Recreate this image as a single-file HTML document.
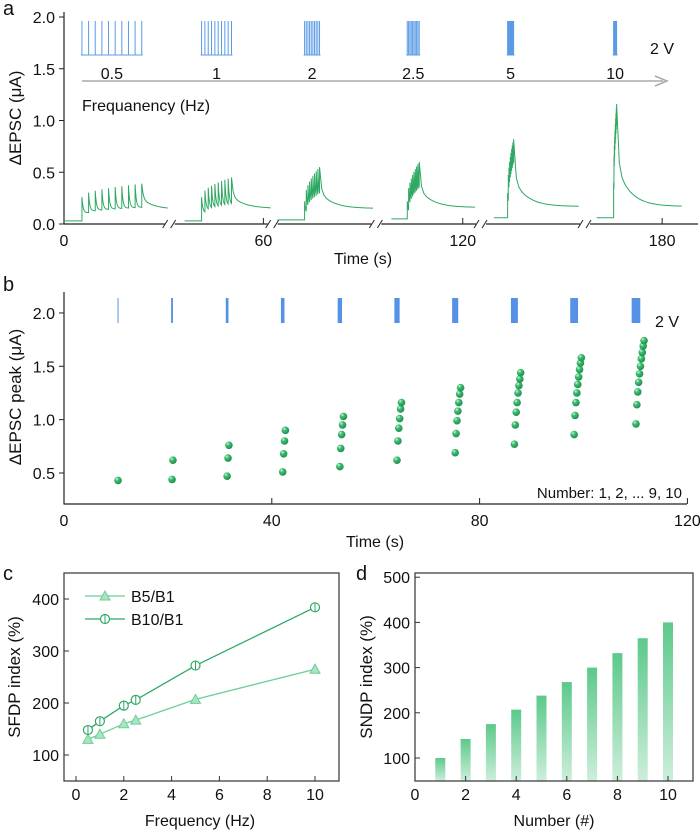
<!DOCTYPE html>
<html><head><meta charset="utf-8"><style>
html,body{margin:0;padding:0;background:#fff;}
svg{display:block;font-family:"Liberation Sans",Arial,sans-serif;}
text{fill:#111;}
</style></head><body>
<svg id="fig" width="700" height="832" viewBox="0 0 700 832">
<defs>
<radialGradient id="dotg" cx="0.35" cy="0.3" r="0.7">
<stop offset="0" stop-color="#d8f5e4"/><stop offset="0.35" stop-color="#3fbf73"/><stop offset="1" stop-color="#1f8f4e"/>
</radialGradient>
<linearGradient id="barg" x1="0" y1="0" x2="0" y2="1">
<stop offset="0" stop-color="#5cc98a"/><stop offset="1" stop-color="#cdeedb"/>
</linearGradient>
</defs>
<g id="pa"></g>
<g id="pb"></g>
<g id="pc"></g>
<g id="pd"></g>
</svg>
<script>
// ---- Panel a data ----
const aFreqs = [0.5, 1, 2, 2.5, 5, 10];
const aFreqLabels = ["0.5", "1", "2", "2.5", "5", "10"];
const aStart = [0, 36.3, 64.2, 98.5, 129.4, 160.3];
const aOnset = [5.4, 41.4, 72.4, 103.3, 133.5, 165.4];
const aEnd = [31.2, 62.2, 93, 123.7, 154.9, 185.9];
const aFirstPeak = [0.26, 0.26, 0.22, 0.22, 0.3, 0.4];
const aLastPeak = [0.39, 0.45, 0.55, 0.6, 0.82, 1.16];
const aBase = [0.03, 0.03, 0.04, 0.05, 0.06, 0.06];
const aTail = [0.14, 0.15, 0.15, 0.16, 0.17, 0.17];
const aBreaks = [31.8, 62.8, 94, 125.5, 156.8];
const aXTicks = [0, 60, 120, 180];
const aYTicks = [0, 0.5, 1.0, 1.5, 2.0];
// ---- Panel b data ----
const bPulseTimes = [10.4, 20.8, 31.4, 42.1, 53.1, 64.1, 75.3, 86.7, 98.2, 110.1];
const bPeaks = [
 [0.43],
 [0.44,0.62],
 [0.47,0.64,0.76],
 [0.51,0.68,0.80,0.90],
 [0.56,0.73,0.86,0.95,1.03],
 [0.62,0.80,0.92,1.01,1.10,1.16],
 [0.69,0.87,0.99,1.08,1.16,1.24,1.30],
 [0.77,0.95,1.07,1.16,1.25,1.32,1.38,1.44],
 [0.86,1.04,1.16,1.25,1.33,1.40,1.47,1.53,1.58],
 [0.96,1.14,1.26,1.35,1.43,1.50,1.57,1.63,1.69,1.74]
];
const bXTicks = [0, 40, 80, 120];
const bYTicks = [0.5, 1.0, 1.5, 2.0];
// ---- Panel c data ----
const cFreq = [0.5, 1, 2, 2.5, 5, 10];
const cB5 = [130, 140, 160, 167, 207, 265];
const cB10 = [148, 165, 195, 206, 272, 384];
const cXTicks = [0, 2, 4, 6, 8, 10];
const cYTicks = [100, 200, 300, 400];
// ---- Panel d data ----
const dNumber = [1,2,3,4,5,6,7,8,9,10];
const dIndex = [100, 142, 175, 207, 238, 268, 300, 332, 365, 400];
const dXTicks = [0, 2, 4, 6, 8, 10];
const dYTicks = [100, 200, 300, 400, 500];

const NS = "http://www.w3.org/2000/svg";
function mk(parent, tag, attrs, txt){
  const e = document.createElementNS(NS, tag);
  for (const k in attrs) e.setAttribute(k, attrs[k]);
  if (txt !== undefined) e.textContent = txt;
  parent.appendChild(e); return e;
}
const GREEN = "#2ea862";

// ================= Panel a =================
(function(){
  const g = document.getElementById('pa');
  const ax = t => 64 + t * 3.323;
  const ay = v => 224 - v * 103.5;
  let e = mk(g,'text',{x:3,y:15,'font-size':20});
  e.textContent='a';
  
  
  e = mk(g,'line',{x1:64,y1:12,x2:64,y2:224.5,stroke:'#222','stroke-width':1.2});
   
  e = mk(g,'line',{x1:64,y1:224,x2:698,y2:224,stroke:'#222','stroke-width':1.2});
   
  aYTicks.forEach(v=>{
    mk(g,'line',{x1:59,y1:ay(v),x2:64,y2:ay(v),stroke:'#222','stroke-width':1});
    const t = mk(g,'text',{x:55,y:ay(v)+6,'font-size':16,'text-anchor':'end'}, v.toFixed(1));
     
  });
  aXTicks.forEach(v=>{
    mk(g,'line',{x1:ax(v),y1:224,x2:ax(v),y2:218,stroke:'#222','stroke-width':1});
    const t = mk(g,'text',{x:ax(v),y:246,'font-size':16,'text-anchor':'middle'}, String(v));
     
  });
  e = mk(g,'text',{x:363,y:264,'font-size':16,'text-anchor':'middle'},'Time (s)');
   
  e = mk(g,'text',{x:0,y:0,'font-size':17,'text-anchor':'middle',transform:'translate(21,118) rotate(-90)'},'ΔEPSC (μA)');
   
  aBreaks.forEach(b=>{
    const x = ax(b);
    mk(g,'rect',{x:x-5,y:221,width:10,height:6,fill:'#fff'});
    const bk = mk(g,'path',{d:`M${x-7},228 L${x-2},220 M${x+1},228 L${x+6},220`,stroke:'#222','stroke-width':1,fill:'none'});
     
  });
  aFreqs.forEach((f,gi)=>{
    const dt = 1/f;
    const pulses=[];
    for(let i=0;i<10;i++) pulses.push(aOnset[gi]+i*dt);
    const pk = i => aFirstPeak[gi] + (aLastPeak[gi]-aFirstPeak[gi])*Math.sqrt(i/9);
    let d = `M${ax(pulses[0])-1},55 L${ax(pulses[9])+1},55`;
    pulses.forEach(p=>{ d += ` M${ax(p)},55 L${ax(p)},21`; });
    const pt = mk(g,'path',{d:d,stroke:'#5b9be6','stroke-width':1,fill:'none'});
    
    
    const lab = mk(g,'text',{x:(ax(pulses[0])+ax(pulses[9]))/2,y:79,'font-size':16,'text-anchor':'middle'},aFreqLabels[gi]);
     
    const base = aBase[gi];
    let pts = [[aStart[gi],base],[pulses[0],base]];
    for(let i=0;i<10;i++){
      const p = pk(i);
      pts.push([pulses[i],p]);
      const next = i<9 ? pulses[i+1] : aEnd[gi];
      const span = next - pulses[i];
      const floor = i<9 ? p*0.42 : aTail[gi];
      const N = 24;
      for(let k=1;k<=N;k++){
        const s = span*k/N;
        let v;
        if(i<9) v = floor + (p-floor)*Math.exp(-s/0.35);
        else v = floor + (p-floor)*(0.6*Math.exp(-s/0.45)+0.4*Math.exp(-s/4));
        pts.push([pulses[i]+s, v]);
      }
      if(i<9) pts.push([next, pts[pts.length-1][1]]);
    }
    const tr = mk(g,'path',{d:'M'+pts.map(q=>ax(q[0]).toFixed(2)+','+ay(q[1]).toFixed(2)).join(' L'),stroke:GREEN,'stroke-width':1,fill:'none'});
    
    
  });
  e = mk(g,'text',{x:650,y:54,'font-size':16},'2 V');
   
  e = mk(g,'path',{d:'M82,81 L663,81 M655,76 L667,81 L655,86',stroke:'#aaa','stroke-width':1.5,fill:'none'});
   
  e = mk(g,'text',{x:82,y:111,'font-size':16},'Frequanency (Hz)');
   
})();

// ================= Panel b =================
(function(){
  const g = document.getElementById('pb');
  const bx = t => 64 + t * 5.195;
  const by = v => 473 - (v-0.5) * 106.7;
  let e = mk(g,'text',{x:3,y:291,'font-size':20},'b');
   
  e = mk(g,'line',{x1:64,y1:292,x2:64,y2:504.5,stroke:'#222','stroke-width':1.2});
   
  e = mk(g,'line',{x1:64,y1:504,x2:687,y2:504,stroke:'#222','stroke-width':1.2});
   
  bYTicks.forEach(v=>{
    mk(g,'line',{x1:59,y1:by(v),x2:64,y2:by(v),stroke:'#222','stroke-width':1});
    const t = mk(g,'text',{x:55,y:by(v)+6,'font-size':16,'text-anchor':'end'},v.toFixed(1));
     
  });
  bXTicks.forEach(v=>{
    mk(g,'line',{x1:bx(v),y1:504,x2:bx(v),y2:498,stroke:'#222','stroke-width':1});
    const t = mk(g,'text',{x:bx(v),y:526,'font-size':16,'text-anchor':'middle'},String(v));
     
  });
  e = mk(g,'text',{x:375,y:547,'font-size':16,'text-anchor':'middle'},'Time (s)');
   
  e = mk(g,'text',{x:0,y:0,'font-size':17,'text-anchor':'middle',transform:'translate(21,397) rotate(-90)'},'ΔEPSC peak (μA)');
   
  bPulseTimes.forEach((t,i)=>{
    const w = 1 + i*0.85;
    const r = mk(g,'rect',{x:bx(t)-w/2,y:298,width:w,height:25,fill:'#5592e6'});
    
    
  });
  bPeaks.forEach((arr,gi)=>{
    arr.forEach((v,k)=>{
      const c = mk(g,'circle',{cx:bx(bPulseTimes[gi])+k*0.9,cy:by(v),r:3.8,fill:'url(#dotg)'});
      
      
    });
  });
  e = mk(g,'text',{x:682,y:498,'font-size':15,'text-anchor':'end'},'Number: 1, 2, ... 9, 10');
   
  e = mk(g,'text',{x:655,y:327,'font-size':16},'2 V');
   
})();

// ================= Panel c =================
(function(){
  const g = document.getElementById('pc');
  const cx = v => 76 + v * 23.9;
  const cy = v => 755 - (v-100) * 0.52;
  let e = mk(g,'text',{x:3,y:580,'font-size':20},'c');
   
  e = mk(g,'rect',{x:64,y:573,width:275,height:208,fill:'none',stroke:'#333','stroke-width':1.2});
   
  cYTicks.forEach(v=>{
    mk(g,'line',{x1:64,y1:cy(v),x2:69,y2:cy(v),stroke:'#333','stroke-width':1});
    const t = mk(g,'text',{x:59,y:cy(v)+6,'font-size':16,'text-anchor':'end'},String(v));
     
  });
  cXTicks.forEach(v=>{
    mk(g,'line',{x1:cx(v),y1:781,x2:cx(v),y2:776,stroke:'#333','stroke-width':1});
    const t = mk(g,'text',{x:cx(v),y:800,'font-size':16,'text-anchor':'middle'},String(v));
     
  });
  e = mk(g,'text',{x:200,y:826,'font-size':16,'text-anchor':'middle'},'Frequency (Hz)');
   
  e = mk(g,'text',{x:0,y:0,'font-size':17,'text-anchor':'middle',transform:'translate(20,677) rotate(-90)'},'SFDP index (%)');
   
  const c5='#6ccf97', c10='#2fa866';
  e = mk(g,'path',{d:'M'+cFreq.map((f,i)=>cx(f)+','+cy(cB5[i])).join(' L'),stroke:c5,'stroke-width':1.3,fill:'none'});
   
  e = mk(g,'path',{d:'M'+cFreq.map((f,i)=>cx(f)+','+cy(cB10[i])).join(' L'),stroke:c10,'stroke-width':1.3,fill:'none'});
   
  const tri=(x,y)=>`M${x},${y-5} L${x+5},${y+4} L${x-5},${y+4} Z`;
  cFreq.forEach((f,i)=>{
    const m = mk(g,'path',{d:tri(cx(f),cy(cB5[i])),fill:'#a9e4c3',stroke:c5,'stroke-width':1});
     
    const o = mk(g,'circle',{cx:cx(f),cy:cy(cB10[i]),r:4.5,fill:'#fff',stroke:c10,'stroke-width':1.2});
     
    mk(g,'line',{x1:cx(f),y1:cy(cB10[i])-4.5,x2:cx(f),y2:cy(cB10[i])+4.5,stroke:c10,'stroke-width':1});
  });
  e = mk(g,'g',{});
   
  mk(e,'line',{x1:85,y1:596,x2:125,y2:596,stroke:c5,'stroke-width':1.3});
  mk(e,'path',{d:tri(105,596),fill:'#a9e4c3',stroke:c5,'stroke-width':1});
  let lt = mk(e,'text',{x:131,y:602,'font-size':16},'B5/B1');
   
  mk(e,'line',{x1:85,y1:619,x2:125,y2:619,stroke:c10,'stroke-width':1.3});
  mk(e,'circle',{cx:105,cy:619,r:4.5,fill:'#fff',stroke:c10,'stroke-width':1.2});
  mk(e,'line',{x1:105,y1:614.5,x2:105,y2:623.5,stroke:c10,'stroke-width':1});
  lt = mk(e,'text',{x:131,y:625,'font-size':16},'B10/B1');
   
})();

// ================= Panel d =================
(function(){
  const g = document.getElementById('pd');
  const dx = v => 415 + v * 25.3;
  const dy = v => 758 - (v-100) * 0.452;
  let e = mk(g,'text',{x:356,y:580,'font-size':20},'d');
   
  dNumber.forEach((n,i)=>{
    const b = mk(g,'rect',{x:dx(n)-5,y:dy(dIndex[i]),width:10,height:781-dy(dIndex[i]),fill:'url(#barg)'});
    
    
  });
  e = mk(g,'rect',{x:415,y:573,width:278,height:208,fill:'none',stroke:'#333','stroke-width':1.2});
   
  dYTicks.forEach(v=>{
    mk(g,'line',{x1:415,y1:dy(v),x2:420,y2:dy(v),stroke:'#333','stroke-width':1});
    const t = mk(g,'text',{x:410,y:dy(v)+6,'font-size':16,'text-anchor':'end'},String(v));
     
  });
  dXTicks.forEach(v=>{
    mk(g,'line',{x1:dx(v),y1:781,x2:dx(v),y2:776,stroke:'#333','stroke-width':1});
    const t = mk(g,'text',{x:dx(v),y:800,'font-size':16,'text-anchor':'middle'},String(v));
     
  });
  e = mk(g,'text',{x:554,y:826,'font-size':16,'text-anchor':'middle'},'Number (#)');
   
  e = mk(g,'text',{x:0,y:0,'font-size':17,'text-anchor':'middle',transform:'translate(372,677) rotate(-90)'},'SNDP index (%)');
   
})();
</script>
</body></html>
